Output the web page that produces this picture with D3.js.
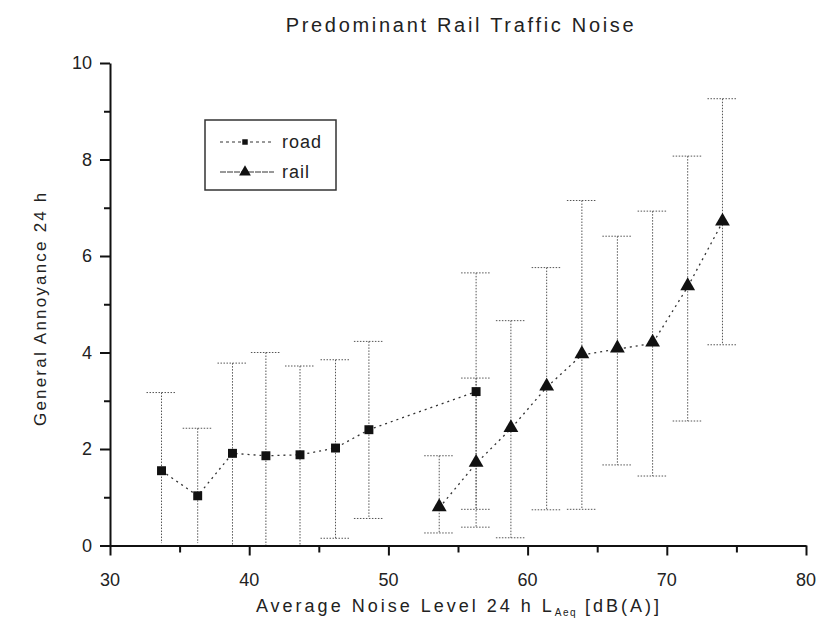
<!DOCTYPE html>
<html>
<head>
<meta charset="utf-8">
<script src="https://cdn.jsdelivr.net/npm/d3@7"></script>
<style>
    body { margin: 0; background: #fff; }
    text { font-family: "Liberation Sans", Arial, sans-serif; fill: #222; }
</style>
</head>
<body>
<script>
"use strict";

// road series
var roadX = [33.7, 36.3, 38.8, 41.2, 43.65, 46.2, 48.6, 56.3];
var roadY = [1.55, 1.03, 1.91, 1.86, 1.88, 2.02, 2.4, 3.19];
var roadLo = [0.05, 0.05, 0.0, 0.0, 0.0, 0.15, 0.56, 0.75];
var roadHi = [3.17, 2.43, 3.78, 4.0, 3.72, 3.85, 4.23, 5.65];

// rail series
var railX = [53.65, 56.3, 58.8, 61.37, 63.9, 66.45, 68.98, 71.5, 74.0];
var railY = [0.78, 1.7, 2.42, 3.28, 3.95, 4.07, 4.19, 5.36, 6.7];
var railLo = [0.26, 0.38, 0.16, 0.74, 0.75, 1.67, 1.44, 2.58, 4.16];
var railHi = [1.86, 3.47, 4.66, 5.76, 7.15, 6.41, 6.93, 8.07, 9.26];

var xTicks = [30, 40, 50, 60, 70, 80];
var yTicks = [0, 2, 4, 6, 8, 10];
var seriesNames = ["road", "rail"];

var width = 825,
    height = 636;
var margin = {top: 63, right: 19, bottom: 90.5, left: 110};

function toPoints(xs, ys, lo, hi) {
    var pts = [];
    for (var i = 0; i < xs.length; i++) {
        pts.push({x: xs[i], y: ys[i], lo: lo[i], hi: hi[i]});
    }
    return pts;
}

var road = toPoints(roadX, roadY, roadLo, roadHi);
var rail = toPoints(railX, railY, railLo, railHi);

var xScale = d3.scaleLinear()
               .domain([30, 80])
               .range([margin.left, width - margin.right]);

var yScale = d3.scaleLinear()
               .domain([0, 10])
               .range([height - margin.bottom, margin.top]);

var svg = d3.select("body").append("svg")
    .attr("width", width)
    .attr("height", height);

// title
svg.append("text")
    .attr("x", 461)
    .attr("y", 32)
    .attr("text-anchor", "middle")
    .style("font-size", "20px")
    .style("letter-spacing", "2.7px")
    .text("Predominant Rail Traffic Noise");

// error bars
function drawBars(pts) {
    var g = svg.append("g")
        .attr("stroke", "#555")
        .attr("stroke-width", 1)
        .attr("stroke-dasharray", "1.5,1.5");
    g.selectAll("line.v")
        .data(pts)
        .enter().append("line")
            .attr("x1", function(d) { return xScale(d.x); })
            .attr("x2", function(d) { return xScale(d.x); })
            .attr("y1", function(d) { return yScale(d.hi); })
            .attr("y2", function(d) { return yScale(d.lo); });
    g.selectAll("line.top")
        .data(pts)
        .enter().append("line")
            .attr("x1", function(d) { return xScale(d.x) - 15; })
            .attr("x2", function(d) { return xScale(d.x) + 15; })
            .attr("y1", function(d) { return yScale(d.hi); })
            .attr("y2", function(d) { return yScale(d.hi); });
    g.selectAll("line.bot")
        .data(pts.filter(function(d) { return d.lo > 0.1; }))
        .enter().append("line")
            .attr("x1", function(d) { return xScale(d.x) - 15; })
            .attr("x2", function(d) { return xScale(d.x) + 15; })
            .attr("y1", function(d) { return yScale(d.lo); })
            .attr("y2", function(d) { return yScale(d.lo); });
}

drawBars(road);
drawBars(rail);

// connecting lines
var line = d3.line()
    .x(function(d) { return xScale(d.x); })
    .y(function(d) { return yScale(d.y); });

[road, rail].forEach(function(pts) {
    svg.append("path")
        .datum(pts)
        .attr("d", line)
        .attr("fill", "none")
        .attr("stroke", "#333")
        .attr("stroke-width", 1.3)
        .attr("stroke-dasharray", "2,4");
});

var square = d3.symbol().type(d3.symbolSquare).size(80);
var triangle = d3.symbol().type(d3.symbolTriangle).size(95);

svg.selectAll("path.road")
    .data(road)
    .enter().append("path")
        .attr("d", square)
        .attr("fill", "#111")
        .attr("transform", function(d) {
            return "translate(" + xScale(d.x) + "," + yScale(d.y) + ")";
        });

svg.selectAll("path.rail")
    .data(rail)
    .enter().append("path")
        .attr("d", triangle)
        .attr("fill", "#111")
        .attr("transform", function(d) {
            return "translate(" + xScale(d.x) + "," + (yScale(d.y) - 1) + ")";
        });

// axes
var xAxis = d3.axisBottom(xScale)
    .tickValues(d3.range(30, 81, 5))
    .tickSize(0)
    .tickFormat("");

var gx = svg.append("g")
    .attr("transform", "translate(0," + yScale(0) + ")")
    .call(xAxis);
gx.select(".domain").attr("stroke", "#111").attr("stroke-width", 2);
gx.selectAll(".tick line")
    .attr("stroke", "#111")
    .attr("stroke-width", 2)
    .attr("y2", function(d) { return d % 10 === 0 ? 10 : 7; });

svg.append("g").selectAll("text")
    .data(xTicks)
    .enter().append("text")
        .attr("x", function(d) { return xScale(d); })
        .attr("y", yScale(0) + 40)
        .attr("text-anchor", "middle")
        .style("font-size", "18px")
        .text(function(d) { return d; });

var yAxis = d3.axisLeft(yScale)
    .tickValues(d3.range(0, 11, 1))
    .tickSize(0)
    .tickFormat("");

var gy = svg.append("g")
    .attr("transform", "translate(" + xScale(30) + ",0)")
    .call(yAxis);
gy.select(".domain").attr("stroke", "#111").attr("stroke-width", 2);
gy.selectAll(".tick line")
    .attr("stroke", "#111")
    .attr("stroke-width", 2)
    .attr("x2", function(d) { return d % 2 === 0 ? -10 : -6; });

svg.append("g").selectAll("text")
    .data(yTicks)
    .enter().append("text")
        .attr("x", xScale(30) - 18)
        .attr("y", function(d) { return yScale(d) + 6; })
        .attr("text-anchor", "end")
        .style("font-size", "18px")
        .text(function(d) { return d; });

// axis titles
var xt = svg.append("text")
    .attr("x", 459)
    .attr("y", 612)
    .attr("text-anchor", "middle")
    .style("font-size", "18px")
    .style("letter-spacing", "3px");
xt.append("tspan").text("Average Noise Level 24 h L");
xt.append("tspan").attr("dy", 4).style("font-size", "10px").style("letter-spacing", "1.5px").text("Aeq");
xt.append("tspan").attr("dy", -4).text(" [dB(A)]");

svg.append("text")
    .attr("transform", "translate(46," + (yScale(5) + 4) + ") rotate(-90)")
    .attr("text-anchor", "middle")
    .style("font-size", "17px")
    .style("letter-spacing", "2.2px")
    .text("General Annoyance 24 h");

// legend
var legend = svg.append("g");
legend.append("rect")
    .attr("x", 205)
    .attr("y", 120)
    .attr("width", 131)
    .attr("height", 70)
    .attr("fill", "none")
    .attr("stroke", "#333")
    .attr("stroke-width", 1.5);

var legendY = [142, 172];
var legendShapes = [square, triangle];
seriesNames.forEach(function(name, i) {
    legend.append("line")
        .attr("x1", 220)
        .attr("x2", 274)
        .attr("y1", legendY[i])
        .attr("y2", legendY[i])
        .attr("stroke", "#333")
        .attr("stroke-width", 1)
        .attr("stroke-dasharray", i === 0 ? "3,3" : "6,1");
    legend.append("path")
        .attr("d", legendShapes[i].size(i === 0 ? 30 : 60)())
        .attr("fill", "#111")
        .attr("transform", "translate(245," + legendY[i] + ")");
    legend.append("text")
        .attr("x", 282)
        .attr("y", legendY[i] + 6)
        .style("font-size", "18px")
        .style("letter-spacing", "1px")
        .text(name);
});
</script>
</body>
</html>
